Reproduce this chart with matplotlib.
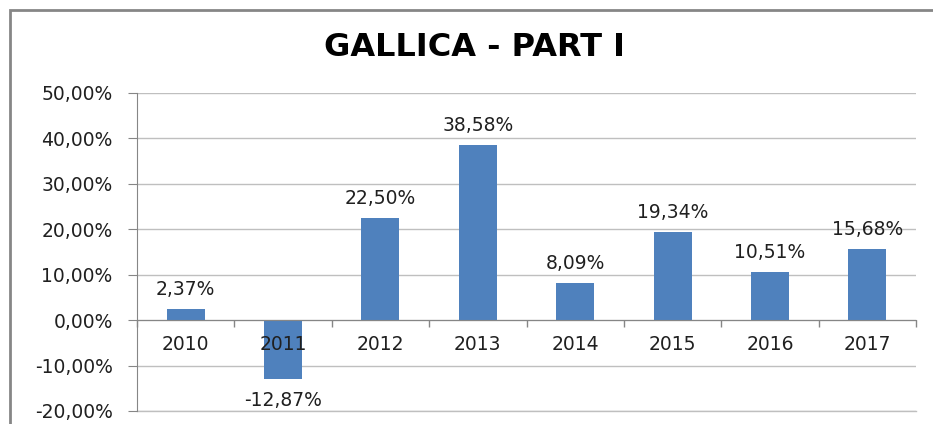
import matplotlib.pyplot as plt
import numpy as np
from matplotlib.patches import Rectangle
from matplotlib.ticker import FixedLocator, FuncFormatter

# donnees
anos = ['2010', '2011', '2012', '2013', '2014', '2015', '2016', '2017']
variacao = [2.37, -12.87, 22.50, 38.58, 8.09, 19.34, 10.51, 15.68]

titulo = 'GALLICA - PART I'
azul = '#4F81BD'
cinza = '#868686'
tam = 13.5


def fmt_pct(v, pos=None):
    return f'{v:.2f}'.replace('.', ',') + '%'


fig = plt.figure(figsize=(9.33, 4.24), dpi=100)
ax = fig.add_axes([137 / 933, 1 - 411 / 424, (916 - 137) / 933, (411 - 93) / 424])

posicoes = np.arange(len(anos))
ax.bar(posicoes, variacao, width=0.39, color=azul, zorder=2)

for x, v in zip(posicoes, variacao):
    desloc = 14 if v >= 0 else -16
    ax.annotate(fmt_pct(v), (x, v), xytext=(0, desloc), textcoords='offset points',
                ha='center', va='center', fontsize=tam, color='#202020')

ax.set_xlim(-0.5, len(anos) - 0.5)
ax.set_ylim(-20, 50)
ax.set_yticks(np.arange(-20, 51, 10))
ax.yaxis.set_major_formatter(FuncFormatter(lambda v, p: fmt_pct(v)))
ax.grid(axis='y', color='#BFBFBF', linewidth=1)
ax.axhline(-20, color='#BFBFBF', linewidth=1, clip_on=False, zorder=0.5)

ax.set_xticks(posicoes)
ax.set_xticklabels(anos)
ax.xaxis.set_minor_locator(FixedLocator(np.arange(-0.5, len(anos), 1)))
ax.tick_params(axis='x', which='major', length=0, pad=11, labelsize=tam, labelcolor='#202020')
ax.tick_params(axis='x', which='minor', length=5, color=cinza, width=1)
ax.tick_params(axis='y', length=6.5, pad=11, color=cinza, labelsize=tam, labelcolor='#202020')

ax.spines['bottom'].set_position(('data', 0))
ax.spines['bottom'].set_color(cinza)
ax.spines['bottom'].set_zorder(4)
ax.spines['left'].set_color(cinza)
ax.spines['top'].set_visible(False)
ax.spines['right'].set_visible(False)

# grille sous les barres, annees au-dessus (comme 2011 dans l'original)
ax.yaxis.set_zorder(0.5)
ax.xaxis.set_zorder(4)

fig.text(475 / 933, 1 - 48 / 424, titulo, ha='center', va='center',
         fontsize=23, fontweight='bold', color='black')

# cadre exterieur du graphique (coupe a droite et en bas)
fig.patches.append(Rectangle((10 / 933, -0.2), 1.2, 1.2 - 10 / 424,
                             transform=fig.transFigure, fill=False,
                             edgecolor=cinza, linewidth=2))

fig.savefig('out.png', dpi=100)
